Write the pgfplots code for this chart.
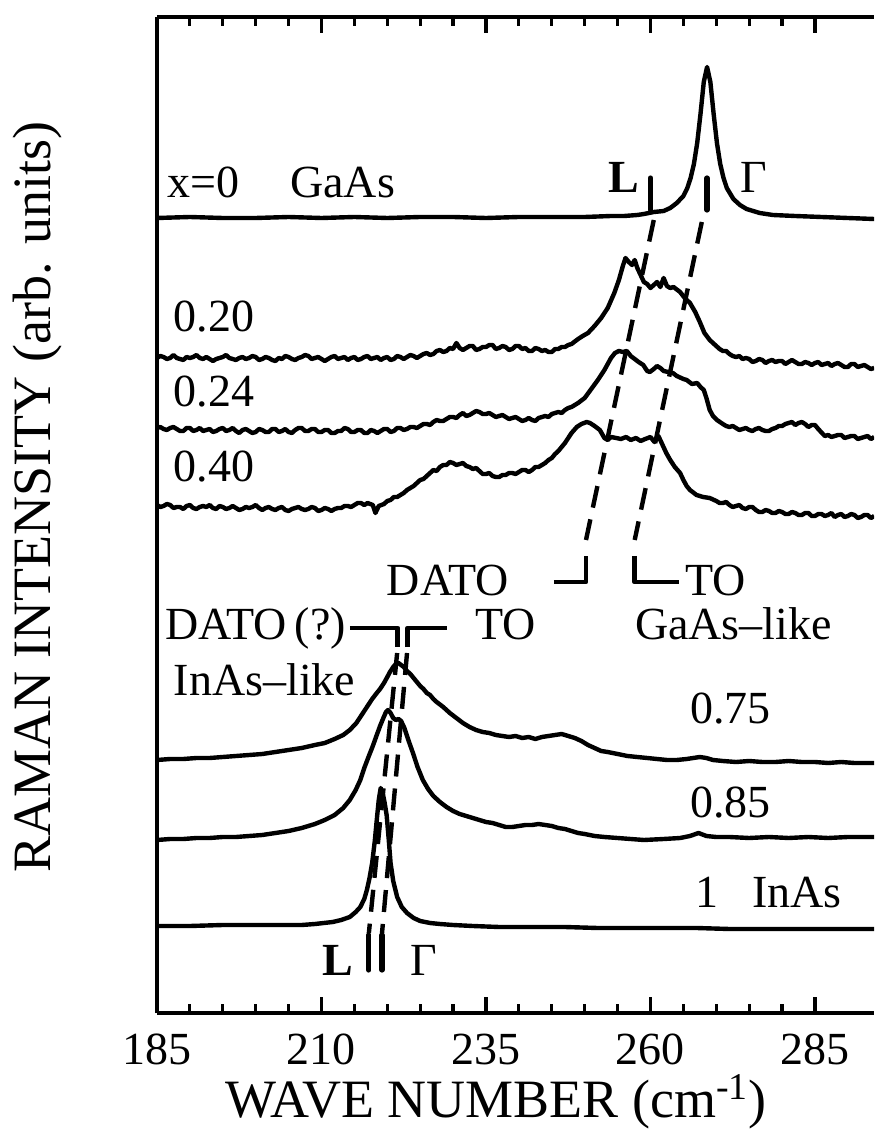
\documentclass[border=0pt]{standalone}
\usepackage{fontspec}
\setmainfont{Liberation Serif}
\usepackage{pgfplots}
\pgfplotsset{compat=1.18}
\tikzset{annot/.style={font=\fontsize{23}{27}\selectfont, inner sep=0pt}}
\begin{document}
\begin{tikzpicture}
\begin{axis}[
  scale only axis, width=358.5pt, height=498pt,
  xmin=185, xmax=293.97, ymin=0, ymax=996,
  axis x line*=box, axis y line*=left,
  axis line style={line width=2.2pt, -},
  y axis line style={-},
  xtick={185,210,235,260,285},
  minor x tick num=4,
  ytick=\empty,
  xtick pos=both, tick align=inside,
  major tick length=8pt, minor tick length=4.5pt,
  every tick/.style={line width=1.6pt, black},
  /pgf/number format/assume math mode=true,
  ticklabel style={font=\fontsize{23}{27}\selectfont},
  xticklabel style={yshift=-7pt},
  xlabel={WAVE NUMBER (cm\textsuperscript{-1})},
  ylabel={RAMAN INTENSITY (arb. units)},
  label style={font=\fontsize{27}{32}\selectfont},
  xlabel style={at={(axis description cs:0.473,-0.089)}, anchor=center},
  ylabel style={at={(axis description cs:-0.167,0.518)}, anchor=center},
  clip=true,
  cycle list={{black, solid, mark=none}},
  no markers,
  every axis plot/.append style={black, line width=2.2pt, line join=round},
]
% x=0 GaAs
\addplot coordinates {(185,795)(190,796)(195,795)(200,795)(205,796)(210,795)(215,796)(220,795)(225,796)(230,796)(235,795)(240,796)(245,796)(250,796)(254,797)(256,797)(258,798)(259,799)(260.5,801)(262,802)(263,805)(264,810)(265,817)(265.6,825)(266.1,835)(266.6,849)(267.1,870)(267.6,899)(268.1,931)(268.6,946)(269.1,931)(269.6,899)(270.1,870)(270.6,849)(271.1,835)(271.6,825)(272.6,814)(273.6,808)(274.6,804)(276.6,800)(278.6,798)(282,797)(286,796)(290,795)(294,794)};
% 0.20
\addplot coordinates {(185,655)(185.5,657)(186,656)(186.5,654)(187,655)(187.5,658)(188,655)(188.5,654)(189,653)(189.5,656)(190,655)(190.5,656)(191,658)(191.5,655)(192,654)(192.5,656)(193,654)(193.5,652)(194,654)(194.5,655)(195,656)(195.5,658)(196,655)(196.5,654)(197,653)(197.5,655)(198,656)(198.5,654)(199,655)(199.5,657)(200,656)(200.5,653)(201,654)(201.5,656)(202,655)(202.5,653)(203,652)(203.5,655)(204,654)(204.5,657)(205,656)(205.5,654)(206,653)(206.5,655)(207,656)(207.5,658)(208,657)(208.5,654)(209,655)(209.5,656)(210,654)(210.5,652)(211,654)(211.5,656)(212,657)(212.5,654)(213,655)(213.5,656)(214,653)(214.5,655)(215,656)(215.5,653)(216,654)(216.5,656)(217,657)(217.5,654)(218,655)(218.5,656)(219,653)(219.5,655)(220,656)(220.5,653)(221,654)(221.5,657)(222,656)(222.5,654)(223,656)(223.5,658)(224,657)(224.5,655)(225,657)(225.5,659)(226,660)(226.5,658)(227,659)(227.5,662)(228,663)(228.5,661)(229,662)(229.5,665)(230,664)(230.5,670)(231,665)(231.5,663)(232,665)(232.5,667)(233,667)(233.5,663)(234,664)(234.5,666)(235,666)(235.5,668)(236,668)(236.5,664)(237,665)(237.5,667)(238,666)(238.5,663)(239,664)(239.5,667)(240,667)(240.5,664)(241,665)(241.5,662)(242,662)(242.5,665)(243,664)(243.5,662)(244,663)(244.5,661)(245,661)(245.5,664)(246,664)(246.5,666)(247,666)(247.5,668)(248,669)(249,674)(249.7,677)(250.5,680)(251.5,687)(252.5,695)(253.5,705)(254.5,720)(255.2,733)(255.8,747)(256.2,755)(256.7,751)(257.2,748)(257.6,753)(258,745)(258.5,738)(259,731)(259.5,729)(260,725)(260.5,728)(261,731)(261.5,726)(262,735)(262.5,727)(263,725)(263.5,726)(264.5,721)(265.2,715)(266,710)(266.8,701)(267.5,691)(268.2,680)(269,673)(270,667)(270.5,664)(271,662)(271.5,662)(272,659)(272.5,657)(273,656)(273.5,657)(274,654)(274.5,655)(275,654)(275.5,651)(276,652)(276.5,654)(277,653)(277.5,650)(278,652)(278.5,653)(279,651)(279.5,652)(280,652)(280.5,649)(281,651)(281.5,653)(282,651)(282.5,649)(283,649)(283.5,651)(284,650)(284.5,648)(285,650)(285.5,651)(286,648)(286.5,649)(287,650)(287.5,647)(288,649)(288.5,650)(289,648)(289.5,646)(290,646)(290.5,649)(291,649)(291.5,646)(292,647)(292.5,648)(293,646)(293.5,644)(294,645)};
% 0.24
\addplot coordinates {(185,585)(185.5,586)(186,584)(186.5,583)(187,585)(187.5,586)(188,584)(188.5,582)(189,582)(189.5,585)(190,585)(190.5,582)(191,583)(191.5,585)(192,582)(192.5,583)(193,584)(193.5,581)(194,582)(194.5,584)(195,585)(195.5,582)(196,583)(196.5,585)(197,582)(197.5,580)(198,583)(198.5,584)(199,582)(199.5,580)(200,581)(200.5,584)(201,583)(201.5,581)(202,581)(202.5,584)(203,584)(203.5,581)(204,582)(204.5,584)(205,581)(205.5,580)(206,583)(206.5,585)(207,585)(207.5,582)(208,582)(208.5,584)(209,584)(209.5,581)(210,581)(210.5,583)(211,583)(211.5,580)(212,580)(212.5,582)(213,582)(213.5,585)(214,584)(214.5,581)(215,581)(215.5,583)(216,583)(216.5,580)(217,580)(217.5,583)(218,582)(218.5,580)(219,582)(219.5,584)(220,584)(220.5,581)(221,582)(221.5,585)(222,585)(222.5,583)(223,584)(223.5,586)(224,586)(224.5,585)(225,587)(225.5,589)(226,589)(226.5,588)(227,591)(227.5,593)(228,592)(228.5,592)(229,594)(229.5,596)(230,596)(230.5,595)(231,598)(231.5,600)(232,597)(232.5,598)(233,600)(233.5,602)(234,601)(234.5,599)(235,599)(235.5,600)(236,598)(236.5,596)(237,597)(237.5,598)(238,596)(238.5,594)(239,595)(239.5,596)(240,594)(240.5,592)(241,593)(241.5,595)(242,593)(242.5,592)(243,595)(243.5,596)(244,597)(244.5,596)(245,599)(245.5,600)(246,601)(246.5,600)(247,603)(247.5,605)(248,606)(249,610)(250,615)(251,624)(252,633)(253,643)(254,655)(254.6,660)(255.2,662)(255.8,661)(256.4,662)(257,657)(257.6,654)(258.2,651)(258.9,648)(259.5,642)(259.9,641)(260.5,644)(261,647)(261.5,645)(262,642)(262.7,641)(263.4,640)(264,637)(265,634)(265.5,633)(266.3,629)(267.1,630)(267.6,626)(268.1,623)(268.5,615)(269,603)(269.5,597)(270.1,593)(271,589)(271.5,587)(272,586)(272.5,587)(273,585)(273.5,583)(274,584)(274.5,585)(275,583)(275.5,582)(276,584)(276.5,585)(277,583)(277.5,582)(278,582)(278.5,584)(279,585)(279.5,587)(280,587)(280.5,589)(281,590)(281.5,591)(282,588)(282.5,590)(283,591)(283.5,589)(284,586)(284.5,588)(285,588)(285.5,584)(286.2,579)(286.5,577)(287,578)(287.5,576)(288,577)(288.5,578)(289,578)(289.5,575)(290,576)(290.5,577)(291,577)(291.5,574)(292,575)(292.5,576)(293,577)(293.5,574)(294,576)};
% 0.40
\addplot coordinates {(185,508)(185.5,506)(186,507)(186.5,509)(187,508)(187.5,505)(188,506)(188.5,506)(189,504)(189.5,507)(190,508)(190.5,505)(191,504)(191.5,506)(192,507)(192.5,506)(193,508)(193.5,505)(194,504)(194.5,507)(195,506)(195.5,504)(196,505)(196.5,507)(197,505)(197.5,503)(198,504)(198.5,506)(199,505)(199.5,506)(200,508)(200.5,505)(201,503)(201.5,505)(202,506)(202.5,504)(203,503)(203.5,505)(204,506)(204.5,503)(205,502)(205.5,504)(206,505)(206.5,506)(207,504)(207.5,503)(208,504)(208.5,506)(209,505)(209.5,502)(210,503)(210.5,505)(211,504)(211.5,502)(212,504)(212.5,505)(213,505)(213.5,507)(214,507)(214.5,506)(215,508)(215.5,510)(216,510)(216.5,508)(217,510)(217.8,508)(218.2,500)(218.7,507)(219.5,509)(220,512)(220.5,513)(221,516)(221.5,516)(222,518)(222.5,520)(223,523)(223.5,525)(224,527)(224.5,530)(225,533)(225.5,534)(226,537)(226.5,540)(227,543)(227.5,542)(228,546)(228.5,548)(229,548)(229.5,551)(230,550)(230.5,548)(231,549)(231.5,550)(232,547)(232.5,546)(233,544)(233.5,545)(234,542)(234.5,539)(235,539)(235.5,540)(236,537)(236.5,536)(237,536)(237.5,538)(238,538)(238.5,540)(239,540)(239.5,539)(240,541)(240.5,543)(241,543)(241.5,541)(242,543)(242.5,546)(243,546)(243.5,548)(244,550)(244.5,553)(245,555)(245.5,559)(246,562)(246.5,566)(247,570)(247.5,575)(248,580)(248.8,586)(249.5,589)(250.3,591)(250.8,590)(251.5,587)(252.3,583)(253,575)(253.5,573)(254,576)(254.8,575)(255.5,574)(256.3,576)(257,573)(257.8,575)(258.5,572)(259.2,574)(260,576)(260.6,571)(261.2,577)(261.7,570)(262.4,560)(263,553)(263.7,546)(264.5,540)(265,533)(265.5,527)(266,523)(267,518)(268,516)(269,515)(270,512)(270.5,510)(271,510)(271.5,511)(272,508)(272.5,506)(273,507)(273.5,508)(274,505)(274.5,504)(275,506)(275.5,506)(276,503)(276.5,501)(277,501)(277.5,503)(278,502)(278.5,500)(279,500)(279.5,502)(280,501)(280.5,499)(281,499)(281.5,501)(282,500)(282.5,498)(283,498)(283.5,500)(284,500)(284.5,497)(285,497)(285.5,499)(286,499)(286.5,497)(287,498)(287.5,500)(288,496)(288.5,498)(289,499)(289.5,496)(290,497)(290.5,499)(291,498)(291.5,495)(292,496)(292.5,498)(293,498)(293.5,495)(294,497)};
% 0.75
\addplot coordinates {(185,253)(187,254)(189,254)(191,255)(193,255)(195,256)(197,257)(199,258)(201,259)(203,261)(205,263)(207,265)(209,268)(210.5,270)(212,274)(213.3,278)(214.3,283)(215.3,290)(216.3,300)(217,307)(217.7,314)(218.4,320)(218.9,324)(219.5,330)(220,336)(220.4,341)(220.9,346)(221.3,349)(221.7,350)(222.1,348)(222.5,346)(223,342)(223.5,339)(224,335)(224.5,331)(225,327)(225.5,324)(226,320)(226.5,318)(227,314)(227.5,311)(228.5,306)(229.5,300)(230.5,295)(231.5,290)(232.5,286)(233.5,283)(234.5,281)(235.5,280)(236.5,278)(237.5,277)(238.5,276)(239.5,277)(240.5,275)(241.5,276)(242.5,274)(243.5,276)(244.5,277)(245.5,278)(246.5,279)(247.5,277)(248.5,275)(249.5,272)(250.5,268)(251.5,265)(252.5,262)(253.5,261)(255,259)(256.5,257)(258,256)(259.5,255)(261,254)(262.5,253)(264,253)(265.5,254)(266.5,255)(267.5,256)(268.5,255)(269.5,253)(271,252)(273,251)(275,252)(277,251)(279,251)(281,252)(283,251)(285,251)(287,250)(289,251)(291,250)(294,250)};
% 0.85
\addplot coordinates {(185,173)(187,174)(189,174)(191,175)(193,175)(195,176)(197,176)(199,177)(201,178)(203,180)(205,182)(207,185)(209,189)(210.5,193)(212,198)(213.3,205)(214.3,213)(215.2,223)(215.9,233)(216.5,245)(217.2,257)(217.8,267)(218.4,278)(218.9,287)(219.4,295)(219.8,301)(220.1,303)(220.5,300)(220.9,295)(221.3,293)(221.7,294)(222.1,292)(222.6,285)(223.2,273)(223.9,260)(224.6,246)(225.4,233)(226.2,224)(227,217)(228,211)(229,206)(230,202)(231,199)(232,197)(233,195)(234,193)(235,191)(236,190)(237,188)(238,186)(239,186)(240,187)(241,188)(242,188)(243,189)(244,188)(245,187)(246,185)(247,184)(248,182)(249,180)(250,179)(251.5,177)(253,176)(255,175)(257,174)(259,173)(262,174)(264.5,175)(266,177)(267.3,180)(268.5,177)(270,176)(272,176)(275,175)(278,176)(281,175)(284,176)(287,175)(290,176)(294,176)};
% 1 InAs
\addplot coordinates {(185,87)(190,87)(195,88)(200,88)(205,88)(207,88)(209,89)(211.7,91)(213,93)(214.3,96)(215.2,101)(215.9,106)(216.5,114)(216.9,123)(217.3,135)(217.7,150)(218.1,172)(218.4,193)(218.7,213)(219,225)(219.3,220)(219.6,210)(219.9,198)(220.2,175)(220.5,150)(220.9,132)(221.5,116)(222.2,106)(223,100)(224,95)(225,92)(226.5,90)(228,89)(230,88)(233,87)(237,86)(242,86)(247,86)(252,85)(257,85)(262,85)(267,85)(272,84)(277,84)(282,84)(287,84)(294,84)};
% guide lines
\addplot[black, dash pattern=on 11pt off 6pt, line width=2.2pt] coordinates {(260.5,793)(250.2,473)};
\addplot[black, dash pattern=on 11pt off 6pt, line width=2.2pt] coordinates {(267.8,791)(257.6,473)};
\addplot[black, line width=2.6pt, line cap=round] coordinates {(260.0,803)(260.0,835)};
\addplot[black, line width=2.6pt, line cap=round] coordinates {(268.6,803)(268.6,835)};
\addplot[black, line width=2.4pt] coordinates {(245.3,431)(250.2,431)(250.2,457)};
\addplot[black, line width=2.4pt] coordinates {(257.6,457)(257.6,431)(264.3,431)};
\addplot[black, line width=2.4pt] coordinates {(214.3,385)(221.6,385)(221.6,366)};
\addplot[black, line width=2.4pt] coordinates {(223.1,366)(223.1,385)(229.1,385)};
\addplot[black, dash pattern=on 11pt off 6pt, line width=2.2pt] coordinates {(221.5,360)(217.2,80)};
\addplot[black, dash pattern=on 11pt off 6pt, line width=2.2pt] coordinates {(223.0,360)(219.2,80)};
\addplot[black, line width=2.6pt, line cap=round] coordinates {(217.2,43)(217.2,78)};
\addplot[black, line width=2.6pt, line cap=round] coordinates {(219.2,43)(219.2,78)};
% annotations
\node[annot, anchor=base west] at (axis cs:186.5,815) {x=0};
\node[annot, anchor=base west] at (axis cs:205.2,815) {GaAs};
\node[annot, anchor=base west] at (axis cs:253.5,820) {\textbf{L}};
\node[annot, anchor=base west] at (axis cs:273.6,820) {Γ};
\node[annot, anchor=base west] at (axis cs:187.5,681) {0.20};
\node[annot, anchor=base west] at (axis cs:187.5,606) {0.24};
\node[annot, anchor=base west] at (axis cs:187.5,531) {0.40};
\node[annot, anchor=base east] at (axis cs:238.5,417) {DATO};
\node[annot, anchor=base west] at (axis cs:265.2,417) {TO};
\node[annot, anchor=base west] at (axis cs:257.6,373) {GaAs--like};
\node[annot, anchor=base west] at (axis cs:186.2,373) {DATO\,(?)};
\node[annot, anchor=base west] at (axis cs:233.3,373) {TO};
\node[annot, anchor=base west] at (axis cs:187.5,318) {InAs--like};
\node[annot, anchor=base west] at (axis cs:266.0,290) {0.75};
\node[annot, anchor=base west] at (axis cs:266.0,196) {0.85};
\node[annot, anchor=base west] at (axis cs:266.8,106) {1};
\node[annot, anchor=base west] at (axis cs:275.4,106) {InAs};
\node[annot, anchor=base west] at (axis cs:210.1,38) {\textbf{L}};
\node[annot, anchor=base west] at (axis cs:223.4,38) {Γ};
\coordinate (sw) at (rel axis cs:0,0);
\coordinate (ne) at (rel axis cs:1,1);
\end{axis}
\pgfresetboundingbox
\path ([shift={(-78.5pt,-64.5pt)}]sw) rectangle ([shift={(0pt,8.5pt)}]ne);
\end{tikzpicture}
\end{document}
